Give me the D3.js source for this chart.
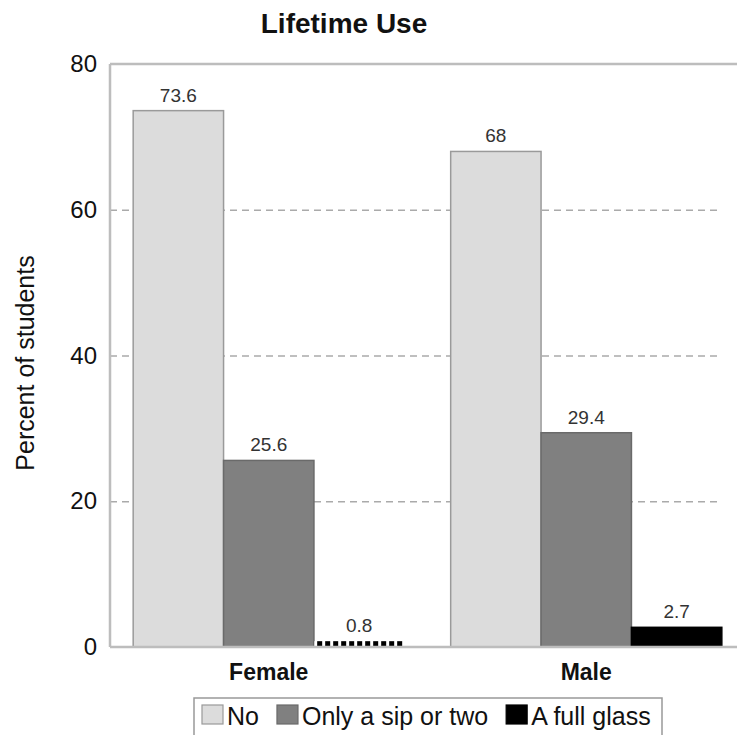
<!DOCTYPE html>
<html>
<head>
<meta charset="utf-8">
<script src="https://cdn.jsdelivr.net/npm/d3@7"></script>
<style>
  body { margin: 0; background: #fff; }
  svg { display: block; font-family: Arial, "Liberation Sans", sans-serif; }
</style>
</head>
<body>
<div id="chart"></div>
<script>
// data
var categories = ["Female", "Male"];
var seriesNames = ["No", "Only a sip or two", "A full glass"];
var noVals = [73.6, 68];
var sipVals = [25.6, 29.4];
var fullVals = [0.8, 2.7];
var yTicks = [0, 20, 40, 60, 80];

var w = 737, h = 735;
var plotLeft = 110, plotTop = 64, plotBottom = 647, plotRight = 745;

var svg = d3.select("#chart").append("svg")
    .attr("width", w)
    .attr("height", h);

// dotted fill for the tiny bar
var defs = svg.append("defs");
var pat = defs.append("pattern")
    .attr("id", "dots")
    .attr("patternUnits", "userSpaceOnUse")
    .attr("width", 8).attr("height", 6)
    .attr("y", plotBottom);
pat.append("rect").attr("width", 8).attr("height", 6).attr("fill", "#fff");
pat.append("rect").attr("width", 5).attr("height", 6).attr("fill", "#000");

var colors = {
  "No": { fill: "#dcdcdc", stroke: "#9a9a9a" },
  "Only a sip or two": { fill: "#808080", stroke: "#6a6a6a" },
  "A full glass": { fill: "#000", stroke: "#000" }
};

var y = d3.scaleLinear().domain([0, 80]).range([plotBottom, plotTop]);
var x0 = d3.scaleBand().domain(categories).range([plotLeft, plotRight])
    .paddingInner(0.146).paddingOuter(0.073);
var x1 = d3.scaleBand().domain(seriesNames).range([0, x0.bandwidth()]);

// gridlines through the axis
var yAxis = d3.axisLeft(y).tickValues(yTicks)
    .tickSize(-(722 - plotLeft)).tickPadding(13)
    .tickFormat(d3.format("d"));
var ga = svg.append("g")
    .attr("transform", "translate(" + plotLeft + ",0)")
    .call(yAxis);
ga.select(".domain").remove();
ga.selectAll(".tick line")
    .attr("stroke", "#aaa")
    .attr("stroke-width", 1.5)
    .attr("stroke-dasharray", "7,5")
    .attr("display", function(d) { return (d === 0 || d === 80) ? "none" : null; });
ga.selectAll(".tick text")
    .attr("font-size", 24)
    .attr("fill", "#111")
    .attr("font-family", "Arial, 'Liberation Sans', sans-serif");

// frame
var frame = svg.append("g").attr("stroke", "#bdbdbd").attr("stroke-width", 2.5);
frame.append("line").attr("x1", plotLeft).attr("x2", w).attr("y1", plotTop).attr("y2", plotTop);
frame.append("line").attr("x1", plotLeft).attr("x2", plotLeft).attr("y1", plotTop).attr("y2", plotBottom);

// rows
var rows = categories.map(function(c, i) {
  return { cat: c, vals: [noVals[i], sipVals[i], fullVals[i]] };
});

var groups = svg.selectAll("g.grp")
    .data(rows)
    .enter().append("g")
    .attr("class", "grp")
    .attr("transform", function(d) { return "translate(" + x0(d.cat) + ",0)"; });

var bars = groups.selectAll("g.bar")
    .data(function(d) {
      return d.vals.map(function(v, j) { return { key: seriesNames[j], value: v }; });
    })
    .enter().append("g").attr("class", "bar");

bars.append("rect")
    .attr("x", function(d) { return x1(d.key); })
    .attr("width", x1.bandwidth())
    .attr("y", function(d) { return y(d.value); })
    .attr("height", function(d) { return y(0) - y(d.value); })
    .attr("fill", function(d) {
      if (d.key === "A full glass" && d.value < 1) return "url(#dots)";
      return colors[d.key].fill;
    })
    .attr("stroke", function(d) {
      if (d.key === "A full glass" && d.value < 1) return "none";
      return colors[d.key].stroke;
    })
    .attr("stroke-width", 1.5);

bars.append("text")
    .attr("x", function(d) { return x1(d.key) + x1.bandwidth() / 2; })
    .attr("y", function(d) { return y(d.value) - 9; })
    .attr("text-anchor", "middle")
    .attr("font-size", 19)
    .attr("fill", "#333")
    .text(function(d) { return String(d.value); });

// bottom axis line
svg.append("line")
    .attr("x1", plotLeft).attr("x2", w)
    .attr("y1", plotBottom).attr("y2", plotBottom)
    .attr("stroke", "#bdbdbd").attr("stroke-width", 2.5);

// category labels
svg.selectAll("text.cat")
    .data(categories)
    .enter().append("text")
    .attr("class", "cat")
    .attr("x", function(d) { return x0(d) + x0.bandwidth() / 2; })
    .attr("y", 680)
    .attr("text-anchor", "middle")
    .attr("font-size", 23)
    .attr("font-weight", "bold")
    .attr("fill", "#111")
    .text(function(d) { return d; });

// title
svg.append("text")
    .attr("x", 344).attr("y", 33)
    .attr("text-anchor", "middle")
    .attr("font-size", 28)
    .attr("font-weight", "bold")
    .attr("fill", "#111")
    .text("Lifetime Use");

// y label
svg.append("text")
    .attr("transform", "translate(34,363) rotate(-90)")
    .attr("text-anchor", "middle")
    .attr("font-size", 25)
    .attr("fill", "#111")
    .text("Percent of students");

// legend
var lg = svg.append("g");
lg.append("rect")
    .attr("x", 194).attr("y", 698)
    .attr("width", 468).attr("height", 60)
    .attr("fill", "#fff").attr("stroke", "#999").attr("stroke-width", 1.5);

var lx = 202;
seriesNames.forEach(function(s) {
  lg.append("rect")
      .attr("x", lx).attr("y", 705)
      .attr("width", 21).attr("height", 19)
      .attr("fill", colors[s].fill)
      .attr("stroke", s === "No" ? "#999" : colors[s].stroke)
      .attr("stroke-width", 1.2);
  var t = lg.append("text")
      .attr("x", lx + 25).attr("y", 725)
      .attr("font-size", 25)
      .attr("fill", "#111")
      .text(s);
  lx = lx + 25 + t.node().getComputedTextLength() + 18;
});
</script>
</body>
</html>
